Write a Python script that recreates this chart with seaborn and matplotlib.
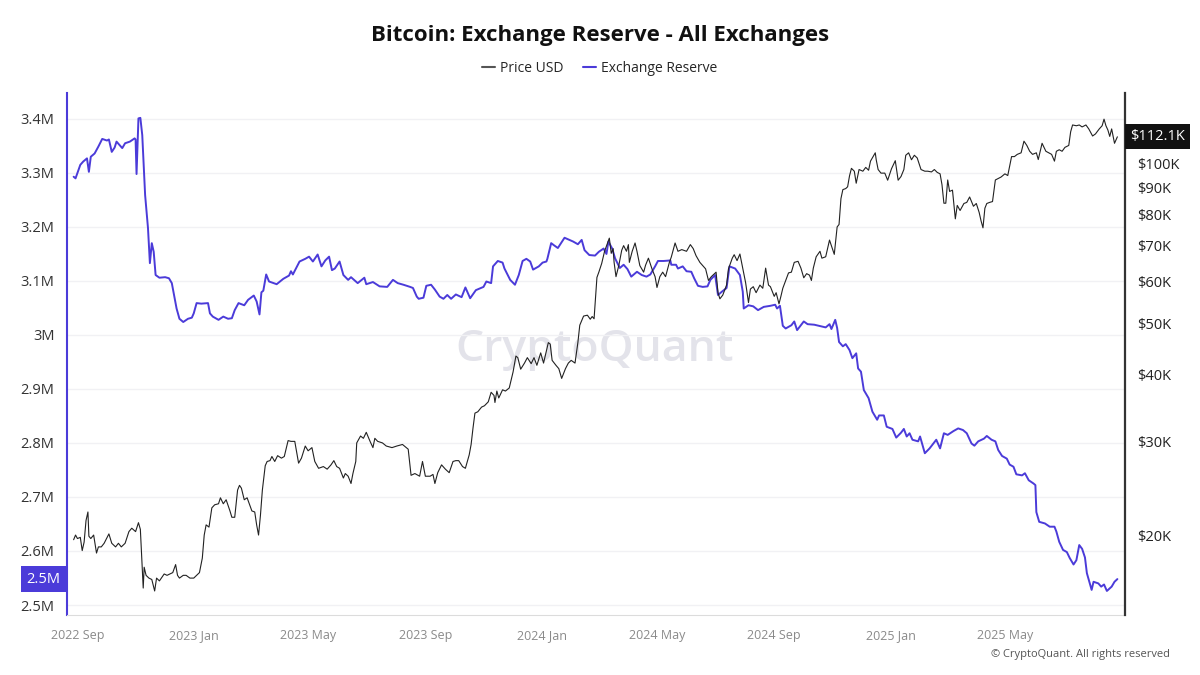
#%%
# bitcoin exchange reserve vs price, cryptoquant style
import numpy as np
import pandas as pd
import matplotlib
matplotlib.use("Agg")
import matplotlib.pyplot as plt
import matplotlib.dates as mdates
from matplotlib.ticker import FuncFormatter, FixedLocator, NullLocator
from matplotlib.lines import Line2D
import seaborn as sns

sns.set_style("white")
plt.rcParams['font.family'] = ['Open Sans', 'DejaVu Sans']

PURPLE = '#4b3bd9'
PRICE_COL = '#222222'

#%% data

# exchange reserve, millions of BTC
reserve_dates = [
    '2022-08-28', '2022-08-30', '2022-09-04', '2022-09-07', '2022-09-11', '2022-09-13', '2022-09-15', '2022-09-19',
    '2022-09-23', '2022-09-27', '2022-10-02', '2022-10-04', '2022-10-07', '2022-10-10', '2022-10-12', '2022-10-15',
    '2022-10-18', '2022-10-21', '2022-10-26', '2022-10-31', '2022-11-01', '2022-11-02', '2022-11-03', '2022-11-04',
    '2022-11-06', '2022-11-08', '2022-11-11', '2022-11-14', '2022-11-16', '2022-11-18', '2022-11-20', '2022-11-22',
    '2022-11-26', '2022-12-02', '2022-12-06', '2022-12-09', '2022-12-12', '2022-12-14', '2022-12-17', '2022-12-21',
    '2022-12-26', '2022-12-30', '2023-01-01', '2023-01-04', '2023-01-09', '2023-01-16', '2023-01-18', '2023-01-21',
    '2023-01-27', '2023-02-01', '2023-02-06', '2023-02-10', '2023-02-13', '2023-02-17', '2023-02-23', '2023-02-27',
    '2023-03-05', '2023-03-08', '2023-03-11', '2023-03-13', '2023-03-15', '2023-03-18', '2023-03-21', '2023-03-29',
    '2023-04-05', '2023-04-11', '2023-04-13', '2023-04-15', '2023-04-22', '2023-04-28', '2023-05-02', '2023-05-06',
    '2023-05-11', '2023-05-15', '2023-05-19', '2023-05-23', '2023-05-26', '2023-05-29', '2023-06-03', '2023-06-07',
    '2023-06-12', '2023-06-15', '2023-06-22', '2023-06-29', '2023-07-01', '2023-07-08', '2023-07-15', '2023-07-23',
    '2023-07-29', '2023-08-03', '2023-08-09', '2023-08-16', '2023-08-19', '2023-08-23', '2023-08-25', '2023-08-30',
    '2023-09-02', '2023-09-07', '2023-09-11', '2023-09-16', '2023-09-20', '2023-09-24', '2023-09-28', '2023-10-03',
    '2023-10-09', '2023-10-13', '2023-10-18', '2023-10-24', '2023-11-01', '2023-11-04', '2023-11-09', '2023-11-11',
    '2023-11-16', '2023-11-21', '2023-11-23', '2023-11-29', '2023-12-04', '2023-12-08', '2023-12-12', '2023-12-16',
    '2023-12-20', '2023-12-23', '2023-12-29', '2024-01-02', '2024-01-06', '2024-01-07', '2024-01-11', '2024-01-14',
    '2024-01-18', '2024-01-25', '2024-01-30', '2024-02-03', '2024-02-08', '2024-02-12', '2024-02-15', '2024-02-20',
    '2024-02-26', '2024-03-01', '2024-03-06', '2024-03-09', '2024-03-11', '2024-03-15', '2024-03-18', '2024-03-23',
    '2024-03-27', '2024-03-31', '2024-04-04', '2024-04-10', '2024-04-15', '2024-04-20', '2024-04-24', '2024-04-29',
    '2024-05-02', '2024-05-08', '2024-05-15', '2024-05-16', '2024-05-21', '2024-05-23', '2024-05-28', '2024-06-01',
    '2024-06-06', '2024-06-09', '2024-06-13', '2024-06-18', '2024-06-23', '2024-06-26', '2024-07-01', '2024-07-04',
    '2024-07-08', '2024-07-13', '2024-07-16', '2024-07-22', '2024-07-27', '2024-07-30', '2024-07-31', '2024-08-05',
    '2024-08-10', '2024-08-15', '2024-08-21', '2024-08-28', '2024-09-02', '2024-09-04', '2024-09-07', '2024-09-10',
    '2024-09-13', '2024-09-19', '2024-09-22', '2024-09-25', '2024-10-02', '2024-10-06', '2024-10-13', '2024-10-20',
    '2024-10-25', '2024-10-29', '2024-10-31', '2024-11-04', '2024-11-06', '2024-11-08', '2024-11-12', '2024-11-15',
    '2024-11-19', '2024-11-22', '2024-11-26', '2024-11-28', '2024-12-01', '2024-12-04', '2024-12-09', '2024-12-13',
    '2024-12-18', '2024-12-20', '2024-12-25', '2024-12-28', '2025-01-03', '2025-01-07', '2025-01-12', '2025-01-15',
    '2025-01-18', '2025-01-21', '2025-01-24', '2025-01-30', '2025-02-01', '2025-02-06', '2025-02-11', '2025-02-14',
    '2025-02-18', '2025-02-22', '2025-02-26', '2025-03-02', '2025-03-08', '2025-03-13', '2025-03-18', '2025-03-22',
    '2025-03-27', '2025-03-30', '2025-04-03', '2025-04-09', '2025-04-12', '2025-04-17', '2025-04-21', '2025-04-24',
    '2025-04-28', '2025-05-03', '2025-05-06', '2025-05-10', '2025-05-13', '2025-05-19', '2025-05-22', '2025-05-26',
    '2025-05-31', '2025-06-02', '2025-06-03', '2025-06-06', '2025-06-12', '2025-06-17', '2025-06-22', '2025-06-24',
    '2025-06-27', '2025-07-01', '2025-07-05', '2025-07-08', '2025-07-12', '2025-07-15', '2025-07-18', '2025-07-21',
    '2025-07-24', '2025-07-26', '2025-07-31', '2025-08-02', '2025-08-07', '2025-08-10', '2025-08-13', '2025-08-16',
    '2025-08-21', '2025-08-24', '2025-08-27',
]
reserve_m = [
    3.293, 3.290, 3.315, 3.321, 3.327, 3.302, 3.330, 3.336,
    3.349, 3.363, 3.360, 3.362, 3.339, 3.347, 3.358, 3.352,
    3.346, 3.355, 3.358, 3.364, 3.362, 3.298, 3.350, 3.401,
    3.402, 3.370, 3.259, 3.198, 3.133, 3.170, 3.154, 3.111,
    3.106, 3.107, 3.105, 3.096, 3.068, 3.049, 3.030, 3.024,
    3.030, 3.032, 3.040, 3.059, 3.058, 3.059, 3.040, 3.034,
    3.028, 3.034, 3.030, 3.031, 3.046, 3.059, 3.055, 3.065,
    3.073, 3.062, 3.038, 3.079, 3.082, 3.112, 3.099, 3.094,
    3.104, 3.110, 3.118, 3.112, 3.136, 3.141, 3.145, 3.136,
    3.149, 3.127, 3.138, 3.145, 3.120, 3.123, 3.136, 3.111,
    3.102, 3.107, 3.096, 3.106, 3.094, 3.098, 3.090, 3.089,
    3.102, 3.096, 3.093, 3.089, 3.087, 3.071, 3.067, 3.069,
    3.091, 3.093, 3.084, 3.071, 3.067, 3.074, 3.067, 3.075,
    3.070, 3.088, 3.068, 3.083, 3.089, 3.099, 3.096, 3.127,
    3.137, 3.134, 3.123, 3.102, 3.093, 3.111, 3.137, 3.141,
    3.136, 3.121, 3.127, 3.134, 3.136, 3.141, 3.170, 3.166,
    3.161, 3.180, 3.176, 3.173, 3.168, 3.176, 3.157, 3.148,
    3.147, 3.154, 3.160, 3.150, 3.173, 3.160, 3.142, 3.124,
    3.130, 3.122, 3.108, 3.117, 3.111, 3.108, 3.112, 3.127,
    3.137, 3.137, 3.138, 3.130, 3.130, 3.123, 3.127, 3.118,
    3.117, 3.105, 3.091, 3.089, 3.090, 3.102, 3.111, 3.074,
    3.080, 3.087, 3.127, 3.123, 3.111, 3.080, 3.049, 3.055,
    3.053, 3.046, 3.052, 3.054, 3.056, 3.049, 3.054, 3.017,
    3.012, 3.018, 3.025, 3.009, 3.025, 3.020, 3.019, 3.016,
    3.014, 3.020, 3.011, 3.028, 3.013, 2.987, 2.979, 2.983,
    2.972, 2.957, 2.966, 2.938, 2.932, 2.898, 2.883, 2.858,
    2.843, 2.851, 2.851, 2.830, 2.826, 2.810, 2.819, 2.826,
    2.812, 2.818, 2.806, 2.803, 2.812, 2.781, 2.790, 2.797,
    2.806, 2.790, 2.818, 2.815, 2.822, 2.827, 2.824, 2.818,
    2.799, 2.795, 2.803, 2.808, 2.813, 2.806, 2.803, 2.787,
    2.776, 2.771, 2.760, 2.756, 2.742, 2.740, 2.744, 2.731,
    2.725, 2.722, 2.672, 2.654, 2.651, 2.645, 2.645, 2.636,
    2.617, 2.602, 2.598, 2.587, 2.575, 2.583, 2.611, 2.604,
    2.588, 2.559, 2.528, 2.543, 2.540, 2.534, 2.538, 2.526,
    2.534, 2.543, 2.548,
]

# bitcoin price, thousands of USD
price_dates = [
    '2022-08-28', '2022-08-30', '2022-09-01', '2022-09-04', '2022-09-06', '2022-09-08', '2022-09-10', '2022-09-12',
    '2022-09-13', '2022-09-15', '2022-09-18', '2022-09-21', '2022-09-23', '2022-09-26', '2022-09-29', '2022-10-04',
    '2022-10-07', '2022-10-11', '2022-10-14', '2022-10-17', '2022-10-21', '2022-10-25', '2022-10-28', '2022-11-01',
    '2022-11-04', '2022-11-06', '2022-11-09', '2022-11-10', '2022-11-12', '2022-11-15', '2022-11-18', '2022-11-21',
    '2022-11-23', '2022-11-26', '2022-12-01', '2022-12-04', '2022-12-07', '2022-12-10', '2022-12-13', '2022-12-15',
    '2022-12-17', '2022-12-21', '2022-12-24', '2022-12-28', '2023-01-01', '2023-01-04', '2023-01-07', '2023-01-10',
    '2023-01-12', '2023-01-14', '2023-01-17', '2023-01-20', '2023-01-23', '2023-01-27', '2023-01-29', '2023-02-01',
    '2023-02-04', '2023-02-08', '2023-02-10', '2023-02-13', '2023-02-16', '2023-02-18', '2023-02-20', '2023-02-23',
    '2023-02-26', '2023-03-03', '2023-03-06', '2023-03-08', '2023-03-10', '2023-03-12', '2023-03-14', '2023-03-17',
    '2023-03-19', '2023-03-22', '2023-03-24', '2023-03-27', '2023-03-30', '2023-04-03', '2023-04-06', '2023-04-10',
    '2023-04-13', '2023-04-17', '2023-04-19', '2023-04-21', '2023-04-24', '2023-04-28', '2023-05-01', '2023-05-05',
    '2023-05-08', '2023-05-12', '2023-05-17', '2023-05-21', '2023-05-25', '2023-05-28', '2023-05-31', '2023-06-03',
    '2023-06-07', '2023-06-09', '2023-06-12', '2023-06-15', '2023-06-17', '2023-06-20', '2023-06-21', '2023-06-25',
    '2023-06-28', '2023-07-01', '2023-07-05', '2023-07-08', '2023-07-10', '2023-07-13', '2023-07-18', '2023-07-22',
    '2023-07-28', '2023-08-02', '2023-08-08', '2023-08-12', '2023-08-14', '2023-08-17', '2023-08-21', '2023-08-26',
    '2023-08-29', '2023-09-01', '2023-09-06', '2023-09-09', '2023-09-11', '2023-09-14', '2023-09-18', '2023-09-22',
    '2023-09-26', '2023-09-30', '2023-10-03', '2023-10-06', '2023-10-10', '2023-10-13', '2023-10-17', '2023-10-19',
    '2023-10-21', '2023-10-23', '2023-10-26', '2023-10-30', '2023-11-02', '2023-11-06', '2023-11-09', '2023-11-12',
    '2023-11-13', '2023-11-15', '2023-11-17', '2023-11-21', '2023-11-24', '2023-11-28', '2023-12-02', '2023-12-05',
    '2023-12-07', '2023-12-10', '2023-12-14', '2023-12-17', '2023-12-21', '2023-12-24', '2023-12-27', '2023-12-31',
    '2024-01-03', '2024-01-08', '2024-01-10', '2024-01-12', '2024-01-16', '2024-01-19', '2024-01-22', '2024-01-26',
    '2024-01-29', '2024-02-01', '2024-02-05', '2024-02-08', '2024-02-10', '2024-02-14', '2024-02-18', '2024-02-21',
    '2024-02-23', '2024-02-25', '2024-02-28', '2024-03-01', '2024-03-04', '2024-03-07', '2024-03-12', '2024-03-14',
    '2024-03-16', '2024-03-17', '2024-03-19', '2024-03-22', '2024-03-25', '2024-03-27', '2024-03-30', '2024-04-01',
    '2024-04-02', '2024-04-05', '2024-04-08', '2024-04-10', '2024-04-13', '2024-04-17', '2024-04-19', '2024-04-22',
    '2024-04-26', '2024-04-29', '2024-05-01', '2024-05-04', '2024-05-07', '2024-05-10', '2024-05-14', '2024-05-16',
    '2024-05-20', '2024-05-23', '2024-05-27', '2024-06-01', '2024-06-05', '2024-06-08', '2024-06-11', '2024-06-15',
    '2024-06-18', '2024-06-21', '2024-06-24', '2024-06-27', '2024-07-02', '2024-07-04', '2024-07-06', '2024-07-09',
    '2024-07-13', '2024-07-15', '2024-07-19', '2024-07-21', '2024-07-24', '2024-07-27', '2024-07-30', '2024-08-02',
    '2024-08-05', '2024-08-07', '2024-08-10', '2024-08-13', '2024-08-17', '2024-08-20', '2024-08-23', '2024-08-26',
    '2024-08-28', '2024-09-01', '2024-09-03', '2024-09-06', '2024-09-08', '2024-09-10', '2024-09-13', '2024-09-16',
    '2024-09-19', '2024-09-22', '2024-09-26', '2024-09-29', '2024-10-02', '2024-10-05', '2024-10-08', '2024-10-10',
    '2024-10-12', '2024-10-15', '2024-10-19', '2024-10-21', '2024-10-25', '2024-10-29', '2024-11-01', '2024-11-03',
    '2024-11-06', '2024-11-08', '2024-11-10', '2024-11-12', '2024-11-15', '2024-11-17', '2024-11-19', '2024-11-21',
    '2024-11-24', '2024-11-26', '2024-11-29', '2024-12-03', '2024-12-06', '2024-12-09', '2024-12-11', '2024-12-16',
    '2024-12-17', '2024-12-19', '2024-12-22', '2024-12-26', '2024-12-29', '2025-01-02', '2025-01-06', '2025-01-09',
    '2025-01-12', '2025-01-15', '2025-01-17', '2025-01-20', '2025-01-23', '2025-01-26', '2025-01-29', '2025-02-02',
    '2025-02-06', '2025-02-09', '2025-02-13', '2025-02-16', '2025-02-19', '2025-02-22', '2025-02-24', '2025-02-26',
    '2025-02-28', '2025-03-02', '2025-03-04', '2025-03-07', '2025-03-10', '2025-03-12', '2025-03-15', '2025-03-19',
    '2025-03-22', '2025-03-25', '2025-03-29', '2025-04-01', '2025-04-04', '2025-04-06', '2025-04-08', '2025-04-10',
    '2025-04-12', '2025-04-15', '2025-04-18', '2025-04-21', '2025-04-24', '2025-04-27', '2025-05-01', '2025-05-04',
    '2025-05-08', '2025-05-11', '2025-05-14', '2025-05-18', '2025-05-21', '2025-05-24', '2025-05-27', '2025-05-30',
    '2025-06-03', '2025-06-05', '2025-06-09', '2025-06-13', '2025-06-16', '2025-06-19', '2025-06-22', '2025-06-24',
    '2025-06-27', '2025-06-30', '2025-07-03', '2025-07-07', '2025-07-09', '2025-07-11', '2025-07-15', '2025-07-18',
    '2025-07-21', '2025-07-25', '2025-07-28', '2025-08-01', '2025-08-04', '2025-08-08', '2025-08-11', '2025-08-13',
    '2025-08-15', '2025-08-17', '2025-08-19', '2025-08-21', '2025-08-24', '2025-08-27',
]
price_k = [
    19.6, 20.0, 19.7, 19.8, 18.7, 19.4, 21.3, 22.1,
    19.9, 19.7, 20.0, 18.5, 19.0, 19.0, 19.3, 20.1,
    19.3, 19.0, 19.3, 19.0, 19.3, 20.3, 20.6, 20.3,
    21.1, 20.5, 15.9, 17.4, 16.8, 16.6, 16.5, 15.7,
    16.6, 16.4, 16.9, 16.8, 16.9, 17.0, 17.6, 16.8,
    16.6, 16.8, 16.8, 16.6, 16.6, 16.8, 17.0, 18.1,
    20.0, 20.9, 20.7, 22.5, 22.8, 22.9, 23.5, 22.9,
    23.3, 22.2, 21.6, 21.6, 24.3, 24.8, 24.5, 23.3,
    23.5, 22.2, 22.1, 20.9, 20.0, 21.8, 24.3, 27.0,
    27.5, 27.6, 28.1, 27.5, 28.2, 27.9, 28.1, 30.1,
    30.0, 30.0, 28.6, 27.3, 27.9, 29.4, 28.8, 29.2,
    27.5, 26.7, 26.9, 26.6, 27.1, 27.6, 26.9, 26.7,
    25.6, 26.1, 25.8, 25.0, 26.1, 27.5, 29.8, 30.7,
    30.4, 31.2, 30.0, 29.2, 30.4, 30.0, 29.8, 29.4,
    29.2, 29.4, 29.6, 29.2, 29.0, 25.9, 26.1, 25.8,
    27.5, 25.8, 25.8, 26.0, 25.0, 26.2, 27.1, 26.6,
    26.2, 27.5, 27.6, 27.6, 26.9, 26.7, 28.3, 29.6,
    31.8, 33.9, 34.1, 34.8, 35.0, 35.6, 37.1, 36.6,
    35.5, 37.3, 36.2, 37.5, 37.3, 37.8, 40.5, 43.4,
    43.1, 41.0, 42.1, 43.1, 42.0, 43.1, 41.7, 44.0,
    42.1, 46.0, 45.7, 42.6, 41.7, 41.1, 39.4, 41.1,
    42.1, 42.6, 42.1, 46.0, 49.6, 51.6, 51.8, 50.9,
    51.5, 51.0, 61.0, 62.4, 64.8, 68.3, 72.3, 67.7,
    69.1, 65.1, 61.2, 64.3, 68.6, 70.0, 68.3, 70.3,
    65.1, 68.3, 70.8, 68.3, 64.2, 62.4, 64.3, 66.3,
    63.1, 61.2, 58.4, 61.2, 62.4, 61.2, 65.1, 66.6,
    70.8, 68.3, 68.8, 68.3, 70.3, 69.1, 67.0, 65.1,
    64.2, 63.3, 60.2, 61.2, 62.4, 57.1, 55.6, 56.5,
    59.0, 63.3, 66.3, 67.3, 65.6, 67.5, 63.4, 59.6,
    54.7, 58.0, 58.6, 57.1, 59.0, 58.2, 63.5, 59.0,
    58.6, 56.2, 57.1, 54.4, 56.2, 58.2, 60.2, 62.2,
    62.4, 65.1, 65.4, 63.5, 60.9, 62.0, 61.6, 60.2,
    63.5, 66.7, 68.3, 66.3, 66.7, 71.7, 69.1, 67.4,
    75.9, 76.7, 85.8, 89.2, 89.6, 90.3, 94.7, 97.8,
    96.6, 91.7, 97.3, 96.6, 98.2, 97.0, 100.9, 104.6,
    101.5, 97.3, 95.8, 95.8, 92.9, 97.6, 101.1, 92.9,
    94.4, 97.3, 103.5, 104.6, 101.5, 103.5, 102.3, 97.3,
    96.6, 96.6, 96.3, 97.3, 96.1, 95.5, 91.1, 84.1,
    84.1, 93.0, 88.5, 89.0, 78.6, 83.3, 81.5, 84.0,
    84.4, 86.4, 83.0, 84.0, 80.8, 77.9, 75.6, 82.3,
    84.0, 84.4, 84.7, 93.0, 93.6, 94.2, 95.5, 94.8,
    102.9, 102.9, 103.9, 104.6, 110.0, 108.0, 105.3, 103.9,
    104.6, 101.6, 109.0, 105.3, 104.6, 103.9, 100.9, 105.3,
    106.0, 105.3, 107.1, 108.0, 114.6, 118.0, 117.6, 118.0,
    117.0, 118.0, 116.0, 112.5, 113.5, 116.0, 117.6, 121.0,
    117.6, 115.5, 112.3, 116.0, 109.0, 112.1,
]

reserve_ticks = [2.5, 2.6, 2.7, 2.8, 2.9, 3.0, 3.1, 3.2, 3.3, 3.4]
price_ticks = [20, 30, 40, 50, 60, 70, 80, 90, 100]
date_ticks = ['2022-09-01', '2023-01-01', '2023-05-01', '2023-09-01', '2024-01-01',
              '2024-05-01', '2024-09-01', '2025-01-01', '2025-05-01']
legend_labels = ['Price USD', 'Exchange Reserve']

res = pd.DataFrame({'date': pd.to_datetime(reserve_dates), 'reserve': reserve_m})
px = pd.DataFrame({'date': pd.to_datetime(price_dates), 'price': price_k})

#%% plot
fig = plt.figure(figsize=(12, 6.75), dpi=100)
fig.patch.set_facecolor('white')
ax = fig.add_axes([0.0558, 0.0889, 0.8817, 0.7733])
ax2 = ax.twinx()

# watermark behind the lines
ax.text(0.499, 0.508, 'CryptoQuant', transform=ax.transAxes, fontsize=32, fontweight='semibold',
        color='#e3e3ea', ha='center', va='center', zorder=0)

sns.lineplot(data=res, x='date', y='reserve', ax=ax, color=PURPLE, linewidth=1.4, zorder=3)
sns.lineplot(data=px, x='date', y='price', ax=ax2, color=PRICE_COL, linewidth=0.8)

# left axis: reserve
ax.set_ylim(2.4815, 3.448)
ax.yaxis.set_major_locator(FixedLocator(reserve_ticks))
ax.yaxis.set_major_formatter(FuncFormatter(lambda v, p: f"{round(v, 1):g}M"))
ax.grid(axis='y', color='#f1f1f4', linewidth=1)
ax.grid(axis='x', visible=False)

# right axis: price, log
ax2.set_yscale('log')
ax2.set_ylim(14.15, 135.5)
ax2.yaxis.set_major_locator(FixedLocator(price_ticks))
ax2.yaxis.set_minor_locator(NullLocator())
ax2.yaxis.set_major_formatter(FuncFormatter(lambda v, p: f"${v:g}K"))
ax2.grid(False)

ax.set_xlim(pd.Timestamp('2022-08-21'), pd.Timestamp('2025-09-04'))
ax.xaxis.set_major_locator(FixedLocator(mdates.date2num(pd.to_datetime(date_ticks))))
ax.xaxis.set_major_formatter(mdates.DateFormatter('%Y %b'))

for a in (ax, ax2):
    a.set_xlabel('')
    a.set_ylabel('')

ax.tick_params(axis='x', length=5, width=1, color='#d5d5d5', labelsize=9, labelcolor='#8a8a8a', pad=5)
ax.tick_params(axis='y', length=0, pad=9, labelsize=10.5, labelcolor='#333333')
ax2.tick_params(axis='y', which='both', length=0, pad=9, labelsize=10.5, labelcolor='#222222')

for s in ['top', 'right']:
    ax.spines[s].set_visible(False)
ax.spines['left'].set_color(PURPLE)
ax.spines['left'].set_linewidth(1.5)
ax.spines['bottom'].set_color('#dcdcdc')
for s in ['top', 'left', 'bottom']:
    ax2.spines[s].set_visible(False)
ax2.spines['right'].set_color('#333333')
ax2.spines['right'].set_linewidth(1.6)

# last value boxes
last_res = res['reserve'].iloc[-1]
last_px = px['price'].iloc[-1]
ax.annotate(f"{last_res:.1f}M", xy=(0, last_res), xycoords=('axes fraction', 'data'),
            xytext=(-4.5, 0), textcoords='offset points', ha='right', va='center',
            fontsize=10.5, color='white', annotation_clip=False,
            bbox=dict(boxstyle='square,pad=0.4', fc=PURPLE, ec='none'))
ax2.annotate(f"${last_px:.1f}K", xy=(1, last_px), xycoords=('axes fraction', 'data'),
             xytext=(4, 0), textcoords='offset points', ha='left', va='center',
             fontsize=10.5, color='white', annotation_clip=False,
             bbox=dict(boxstyle='square,pad=0.35', fc='#111111', ec='none'))

# title, legend, footer
fig.text(0.5, 1 - 35 / 675, 'Bitcoin: Exchange Reserve - All Exchanges', ha='center', va='center',
         fontsize=16, fontweight='bold', color='#111111')
handles = [Line2D([], [], color='#555555', lw=1.5), Line2D([], [], color=PURPLE, lw=1.5)]
fig.legend(handles, legend_labels, loc='center', bbox_to_anchor=(0.5, 1 - 68 / 675), ncol=2,
           frameon=False, fontsize=10, handlelength=0.9, handletextpad=0.4, columnspacing=1.4)
fig.text(1170 / 1200, 1 - 655 / 675, '© CryptoQuant. All rights reserved', ha='right', va='center',
         fontsize=8, color='#555555')

fig.savefig('out.png', dpi=100)
